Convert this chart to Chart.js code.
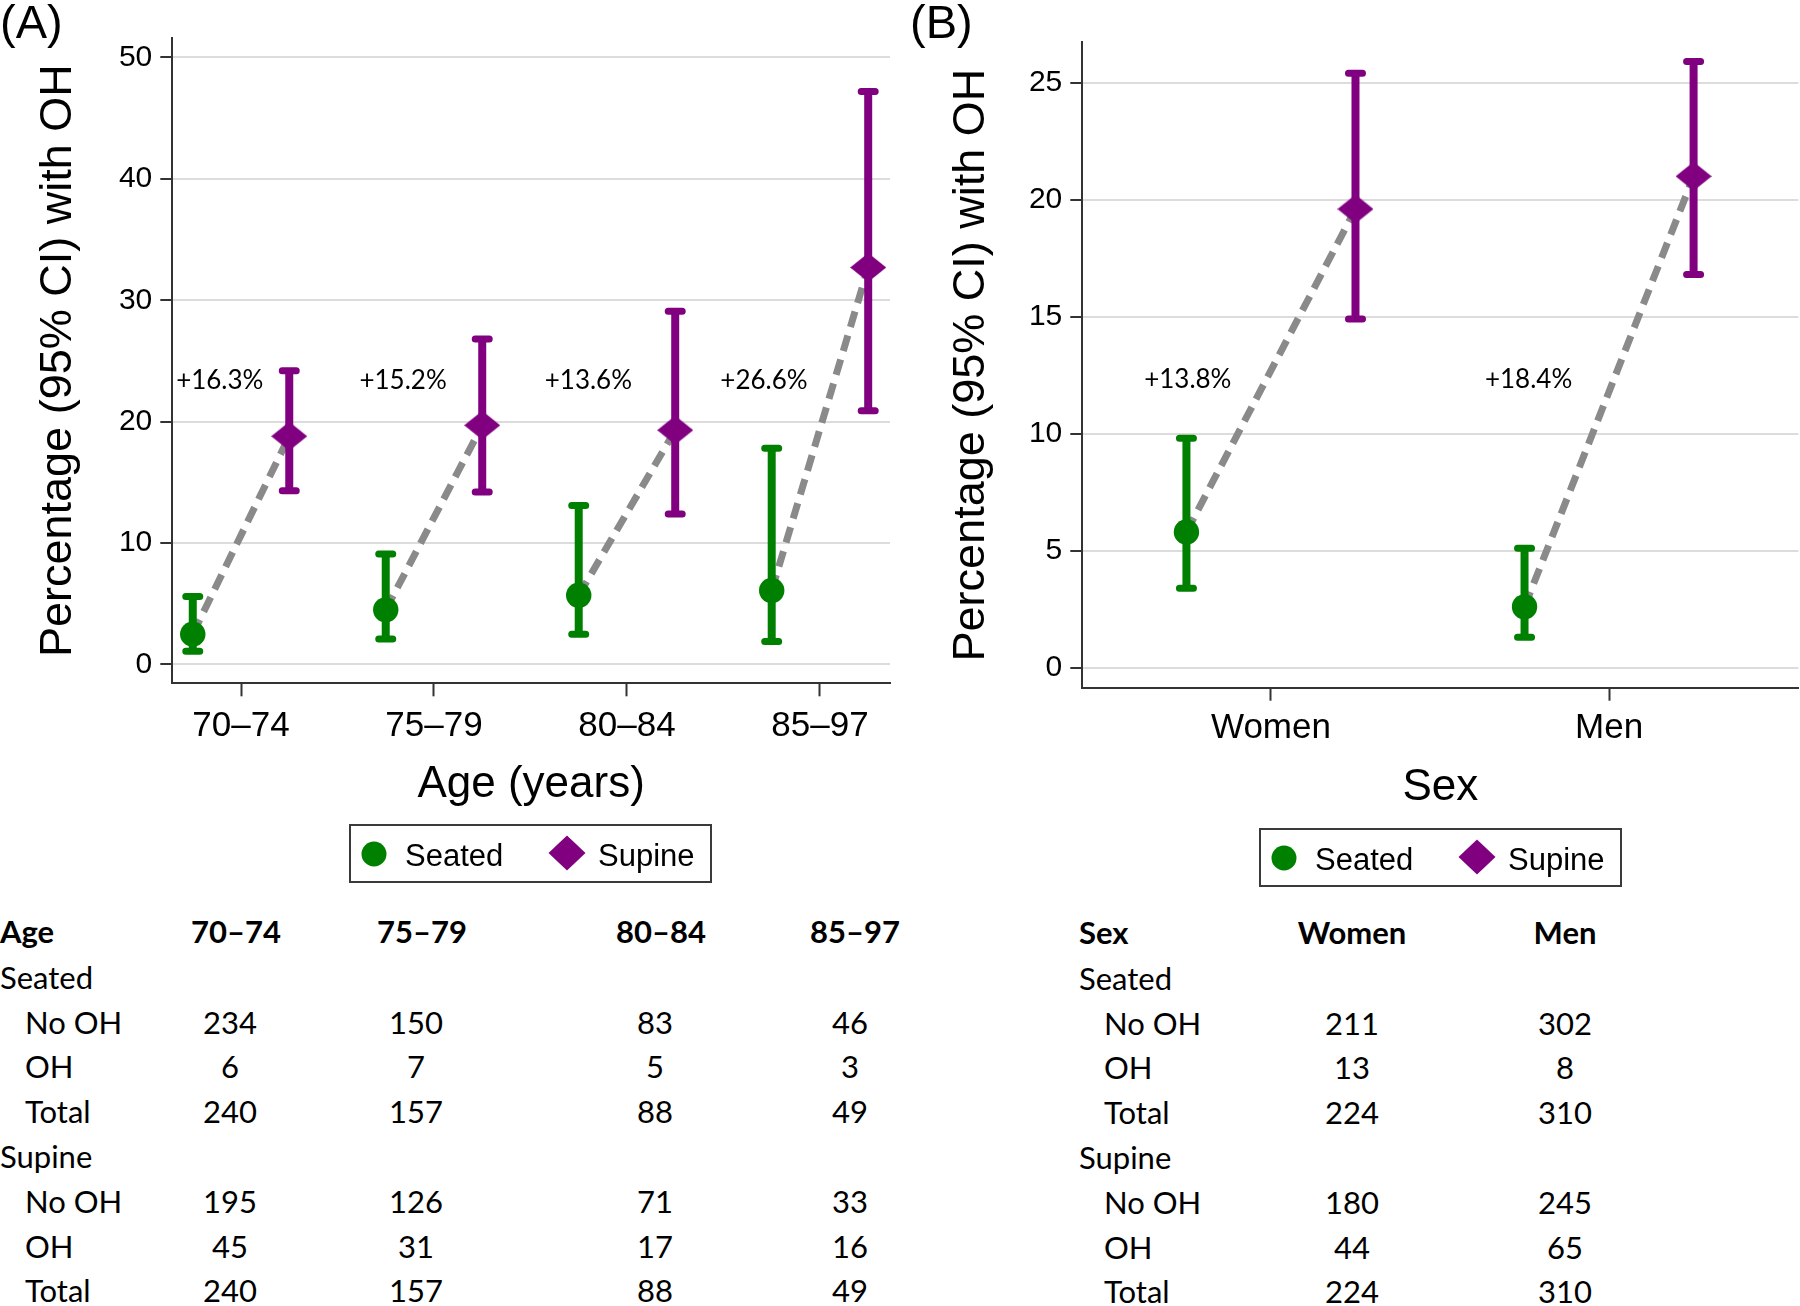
<!DOCTYPE html>
<html>
<head>
<meta charset="utf-8">
<title>Orthostatic hypotension, seated vs supine</title>
<script src="https://cdn.jsdelivr.net/npm/chart.js@4.4.1/dist/chart.umd.min.js"></script>
<style>
  html, body { margin: 0; padding: 0; background: #fff; }
  body { width: 1800px; height: 1306px; position: relative; overflow: hidden; }
  canvas { position: absolute; top: 0; }
  .txt { position: absolute; white-space: nowrap; color: #000; line-height: 1; }
  .legend { position: absolute; box-sizing: border-box; width: 363px; height: 59px; border: 2px solid #3a3a3a; }
  .legend svg { position: absolute; }
</style>
</head>
<body>
<canvas id="chartA" width="900" height="830" style="left:0px"></canvas>
<canvas id="chartB" width="900" height="830" style="left:900px"></canvas>
<script>
// ---- data ----
const ageCats = ['70–74', '75–79', '80–84', '85–97'];
const ageSeated = [2.5, 4.5, 5.7, 6.1];
const ageSeatedLo = [1.1, 2.1, 2.5, 1.9];
const ageSeatedHi = [5.6, 9.1, 13.1, 17.8];
const ageSupine = [18.8, 19.7, 19.3, 32.7];
const ageSupineLo = [14.3, 14.2, 12.4, 20.9];
const ageSupineHi = [24.2, 26.8, 29.1, 47.2];
const ageDiff = ['+16.3%', '+15.2%', '+13.6%', '+26.6%'];
const ageTicks = [0, 10, 20, 30, 40, 50];

const sexCats = ['Women', 'Men'];
const sexSeated = [5.8, 2.6];
const sexSeatedLo = [3.4, 1.3];
const sexSeatedHi = [9.8, 5.1];
const sexSupine = [19.6, 21.0];
const sexSupineLo = [14.9, 16.8];
const sexSupineHi = [25.4, 25.9];
const sexDiff = ['+13.8%', '+18.4%'];
const sexTicks = [0, 5, 10, 15, 20, 25];

const seriesNames = ['Seated', 'Supine'];

// counts table
const ageSeatedNoOH = [234, 150, 83, 46];
const ageSeatedOH = [6, 7, 5, 3];
const ageSeatedTotal = [240, 157, 88, 49];
const ageSupineNoOH = [195, 126, 71, 33];
const ageSupineOH = [45, 31, 17, 16];
const ageSupineTotal = [240, 157, 88, 49];

const sexSeatedNoOH = [211, 302];
const sexSeatedOH = [13, 8];
const sexSeatedTotal = [224, 310];
const sexSupineNoOH = [180, 245];
const sexSupineOH = [44, 65];
const sexSupineTotal = [224, 310];

// ---- styling ----
const GREEN = '#008000';
const PURPLE = '#800080';
const GREY = '#8a8a8a';
const AXIS = '#333333';
const OFF = 0.25; // seated / supine offset from the category
const CANVAS_W = 900, CANVAS_H = 830;

Chart.defaults.font.family = '"Liberation Sans", Arial, sans-serif';

function diamond(w, h, color) {
  const c = document.createElement('canvas');
  c.width = w;
  c.height = h;
  const g = c.getContext('2d');
  g.fillStyle = color;
  g.beginPath();
  g.moveTo(w / 2, 0);
  g.lineTo(w, h / 2);
  g.lineTo(w / 2, h);
  g.lineTo(0, h / 2);
  g.closePath();
  g.fill();
  return c;
}

// CI whiskers, drawn right after the dashed connectors (dataset 0)
const errorBars = {
  id: 'errorBars',
  afterDatasetDraw(chart, args) {
    if (args.index !== 0) return;
    const { ctx, scales: { x, y } } = chart;
    chart.data.datasets.forEach((ds) => {
      if (!ds.lo) return;
      ctx.save();
      ctx.strokeStyle = ds.backgroundColor;
      ds.data.forEach((p, i) => {
        const px = x.getPixelForValue(p.x);
        const yl = y.getPixelForValue(ds.lo[i]);
        const yh = y.getPixelForValue(ds.hi[i]);
        ctx.lineWidth = 8;
        ctx.lineCap = 'butt';
        ctx.beginPath();
        ctx.moveTo(px, yl);
        ctx.lineTo(px, yh);
        ctx.stroke();
        ctx.lineWidth = 7;
        ctx.lineCap = 'round';
        ctx.beginPath();
        ctx.moveTo(px - 7, yl);
        ctx.lineTo(px + 7, yl);
        ctx.moveTo(px - 7, yh);
        ctx.lineTo(px + 7, yh);
        ctx.stroke();
      });
      ctx.restore();
    });
  }
};

const diffLabels = {
  id: 'diffLabels',
  afterDatasetsDraw(chart, args, opts) {
    const { ctx, scales: { x, y } } = chart;
    ctx.save();
    ctx.font = '26px Lato';
    ctx.fillStyle = '#000';
    ctx.textAlign = 'center';
    ctx.textBaseline = 'middle';
    opts.texts.forEach((t, i) => {
      ctx.fillText(t, x.getPixelForValue(opts.xs[i]), y.getPixelForValue(opts.y));
    });
    ctx.restore();
  }
};

function makePanel(id, p) {
  const pos = p.cats.map((c, i) => i + 1);
  const seatedPts = pos.map((v, i) => ({ x: v - OFF, y: p.seated[i] }));
  const supinePts = pos.map((v, i) => ({ x: v + OFF, y: p.supine[i] }));
  const links = [];
  pos.forEach((v, i) => {
    links.push(seatedPts[i], supinePts[i], { x: v + 0.5, y: null });
  });

  return new Chart(document.getElementById(id), {
    type: 'scatter',
    data: {
      datasets: [
        {
          data: links,
          showLine: true,
          spanGaps: false,
          borderColor: GREY,
          borderWidth: 7,
          borderDash: [16, 9],
          pointRadius: 0,
          order: 3
        },
        {
          label: seriesNames[0],
          data: seatedPts,
          lo: p.seatedLo,
          hi: p.seatedHi,
          backgroundColor: GREEN,
          borderWidth: 0,
          pointStyle: 'circle',
          pointRadius: 12.7,
          clip: false,
          order: 2
        },
        {
          label: seriesNames[1],
          data: supinePts,
          lo: p.supineLo,
          hi: p.supineHi,
          backgroundColor: PURPLE,
          borderWidth: 0,
          pointStyle: diamond(36, 29, PURPLE),
          pointRadius: 14,
          clip: false,
          order: 1
        }
      ]
    },
    options: {
      responsive: false,
      animation: false,
      devicePixelRatio: 1,
      layout: {
        autoPadding: false,
        padding: { left: 0, top: p.top, right: CANVAS_W - p.right, bottom: 0 }
      },
      plugins: {
        legend: { display: false },
        tooltip: { enabled: false },
        diffLabels: { texts: p.diff, xs: p.diffX, y: p.diffY }
      },
      scales: {
        x: {
          type: 'linear',
          min: p.xMin,
          max: p.xMax,
          afterBuildTicks: (s) => { s.ticks = pos.map((v) => ({ value: v })); },
          afterFit: (s) => { s.height = CANVAS_H - p.bottom; },
          ticks: {
            callback: (v) => p.cats[v - 1],
            font: { size: 35 },
            color: '#000',
            padding: p.xTickPad,
            maxRotation: 0,
            autoSkip: false
          },
          grid: { drawOnChartArea: false, drawTicks: true, tickLength: 13, tickColor: AXIS, tickWidth: 2 },
          border: { display: true, color: AXIS, width: 2 },
          title: {
            display: true,
            text: p.xTitle,
            font: { size: 44 },
            color: '#000',
            padding: { top: 0, bottom: p.xTitlePad }
          }
        },
        y: {
          type: 'linear',
          min: p.yMin,
          max: p.yMax,
          afterBuildTicks: (s) => { s.ticks = p.yTicks.map((v) => ({ value: v })); },
          afterFit: (s) => { s.width = p.left; },
          ticks: { font: { size: 30 }, color: '#000', padding: 8 },
          grid: { color: '#dcdcdc', lineWidth: 2, tickLength: 12, tickColor: AXIS, tickWidth: 2 },
          border: { display: true, color: AXIS, width: 2 },
          title: {
            display: true,
            text: 'Percentage (95% CI) with OH',
            font: { size: 45 },
            color: '#000',
            padding: { top: p.yTitlePad, bottom: 0 }
          }
        }
      }
    },
    plugins: [errorBars, diffLabels]
  });
}

makePanel('chartA', {
  cats: ageCats, seated: ageSeated, seatedLo: ageSeatedLo, seatedHi: ageSeatedHi,
  supine: ageSupine, supineLo: ageSupineLo, supineHi: ageSupineHi,
  diff: ageDiff, diffX: [0.89, 1.84, 2.8, 3.71], diffY: 23.4,
  yTicks: ageTicks, yMin: -1.55, yMax: 51.6, xMin: 0.644, xMax: 4.363,
  left: 172.3, right: 890, top: 38, bottom: 683.3,
  xTitle: 'Age (years)', xTickPad: 9, xTitlePad: 18.5, yTitlePad: 32
});

makePanel('chartB', {
  cats: sexCats, seated: sexSeated, seatedLo: sexSeatedLo, seatedHi: sexSeatedHi,
  supine: sexSupine, supineLo: sexSupineLo, supineHi: sexSupineHi,
  diff: sexDiff, diffX: [0.754, 1.762], diffY: 12.3,
  yTicks: sexTicks, yMin: -0.855, yMax: 26.72, xMin: 0.442, xMax: 2.56,
  left: 182.3, right: 898.4, top: 42.4, bottom: 687.7,
  xTitle: 'Sex', xTickPad: 7, xTitlePad: 15.5, yTitlePad: 45
});

// ---- DOM text: panel letters, legends, count tables ----
function place(text, x, base, font, align) {
  const el = document.createElement('div');
  el.className = 'txt';
  el.style.font = font;
  el.style.left = x + 'px';
  el.style.top = '0px';
  el.textContent = text;
  const probe = document.createElement('span');
  probe.style.cssText = 'display:inline-block;width:0;height:0;vertical-align:baseline';
  el.appendChild(probe);
  document.body.appendChild(el);
  const b = probe.getBoundingClientRect().top - el.getBoundingClientRect().top;
  el.style.top = (base - b) + 'px';
  if (align === 'center') el.style.transform = 'translateX(-50%)';
  return el;
}

const AXFONT = '"Liberation Sans", Arial, sans-serif';
place('(A)', 0, 38, '47px ' + AXFONT);
place('(B)', 910, 38, '47px ' + AXFONT);

function legend(left, top) {
  const box = document.createElement('div');
  box.className = 'legend';
  box.style.left = left + 'px';
  box.style.top = top + 'px';
  box.innerHTML =
    '<svg width="26" height="26" style="left:10px;top:15px"><circle cx="13" cy="13" r="12.5" fill="' + GREEN + '"/></svg>' +
    '<svg width="38" height="36" style="left:197px;top:9px"><polygon points="19,0.5 37.5,18 19,35.5 0.5,18" fill="' + PURPLE + '"/></svg>';
  document.body.appendChild(box);
  place(seriesNames[0], left + 56, top + 42, '31px ' + AXFONT);
  place(seriesNames[1], left + 249, top + 42, '31px ' + AXFONT);
}
legend(349, 824);
legend(1259, 828);

const TFONT = '31px Lato, "Open Sans", sans-serif';
const TBOLD = 'bold 31px Lato, "Open Sans", sans-serif';
const rowBase = [943, 989, 1034, 1078, 1123, 1168, 1213, 1258, 1302];

function table(t) {
  const dy = t.dy;
  place(t.head, t.x, rowBase[0] + dy, TBOLD);
  t.cats.forEach((c, i) => place(c, t.headX[i], rowBase[0] + dy, TBOLD, 'center'));
  const rows = [
    [seriesNames[0], null],
    ['No OH', t.seatedNoOH],
    ['OH', t.seatedOH],
    ['Total', t.seatedTotal],
    [seriesNames[1], null],
    ['No OH', t.supineNoOH],
    ['OH', t.supineOH],
    ['Total', t.supineTotal]
  ];
  rows.forEach((r, k) => {
    const base = rowBase[k + 1] + dy;
    place(r[0], r[1] ? t.x + 25 : t.x, base, TFONT);
    if (r[1]) r[1].forEach((v, i) => place(String(v), t.valX[i], base, TFONT, 'center'));
  });
}

table({
  head: 'Age', cats: ageCats, x: 0, dy: 0,
  headX: [236, 422, 661, 855], valX: [230, 416, 655, 850],
  seatedNoOH: ageSeatedNoOH, seatedOH: ageSeatedOH, seatedTotal: ageSeatedTotal,
  supineNoOH: ageSupineNoOH, supineOH: ageSupineOH, supineTotal: ageSupineTotal
});

table({
  head: 'Sex', cats: sexCats, x: 1079, dy: 1,
  headX: [1352, 1565], valX: [1352, 1565],
  seatedNoOH: sexSeatedNoOH, seatedOH: sexSeatedOH, seatedTotal: sexSeatedTotal,
  supineNoOH: sexSupineNoOH, supineOH: sexSupineOH, supineTotal: sexSupineTotal
});
</script>
</body>
</html>
